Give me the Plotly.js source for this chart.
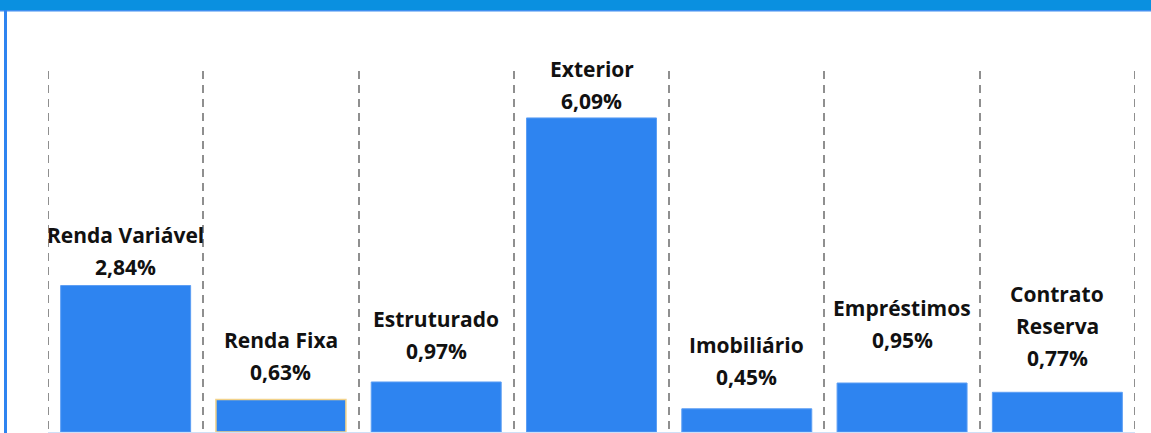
<!DOCTYPE html>
<html>
<head>
<meta charset="utf-8">
<script src="https://cdn.plot.ly/plotly-3.0.1.min.js"></script>
<style>
  html, body { margin: 0; padding: 0; background: #ffffff; }
  #chart { width: 1151px; height: 433px; }
</style>
</head>
<body>
<div id="chart"></div>
<script>
// ---- data ----
var categories = ["Renda Variável", "Renda Fixa", "Estruturado", "Exterior", "Imobiliário", "Empréstimos", "Contrato Reserva"];
var labelLines = [["Renda Variável"], ["Renda Fixa"], ["Estruturado"], ["Exterior"], ["Imobiliário"], ["Empréstimos"], ["Contrato", "Reserva"]];
var values = [2.84, 0.63, 0.97, 6.09, 0.45, 0.95, 0.77];
var valueLabels = ["2,84%", "0,63%", "0,97%", "6,09%", "0,45%", "0,95%", "0,77%"];

// ---- styling ----
var labelGap = [11, 20, 23, 9, 24, 36, 27];   // px between bar top and value baseline
var lineStep = 32;
var descent = 8.5;
var barBlue = "#2E84F0";
var font = "'Open Sans', Lato, sans-serif";
var fsize = 21;

var lineColors = values.map(function (v, i) { return i === 1 ? "#F2D28A" : "#5C9EF4"; });
var lineWidths = values.map(function (v, i) { return i === 1 ? 1.5 : 1; });

var trace = {
  type: "bar",
  x: categories,
  y: values,
  width: 0.837,
  marker: { color: barBlue, line: { color: lineColors, width: lineWidths } },
  hoverinfo: "none"
};

var annotations = [];
categories.forEach(function (c, i) {
  var base = labelGap[i] - descent;
  annotations.push({
    x: c, y: values[i], xref: "x", yref: "y",
    text: valueLabels[i], showarrow: false,
    yanchor: "bottom", xanchor: "center", yshift: base,
    font: { family: font, size: fsize, color: "#111111", weight: "bold" }
  });
  var lines = labelLines[i];
  for (var k = 0; k < lines.length; k++) {
    annotations.push({
      x: c, y: values[i], xref: "x", yref: "y",
      text: lines[k], showarrow: false,
      yanchor: "bottom", xanchor: "center",
      yshift: base + lineStep * (lines.length - k),
      font: { family: font, size: fsize, color: "#111111", weight: "bold" }
    });
  }
});

var plotW = 1151 - 48 - 16, plotH = 433 - 71 - 1;
function px(xp) { return (xp - 48) / plotW; }
function py(yp) { return (432 - yp) / plotH; }

var shapes = [
  { type: "rect", xref: "paper", yref: "paper", x0: px(-20), x1: px(1170), y0: py(10), y1: py(-20),
    fillcolor: "#0A90E0", line: { width: 0 } },
  { type: "rect", xref: "paper", yref: "paper", x0: px(-20), x1: px(1170), y0: py(11.5), y1: py(10),
    fillcolor: "#4090F0", line: { width: 0 } },
  { type: "rect", xref: "paper", yref: "paper", x0: px(4), x1: px(7), y0: py(460), y1: py(10),
    fillcolor: barBlue, line: { width: 0 } }
];
// outer category boundaries (dashed, like the inner grid lines)
[-0.5, categories.length - 0.5].forEach(function (b) {
  shapes.push({ type: "line", xref: "x", yref: "paper", x0: b, x1: b, y0: 1, y1: 0,
    layer: "below", line: { color: "#8f8f8f", width: 2, dash: "8px,6px" } });
});

var layout = {
  width: 1151, height: 433,
  margin: { l: 48, r: 16, t: 71, b: 1, pad: 0 },
  paper_bgcolor: "#ffffff", plot_bgcolor: "#ffffff",
  showlegend: false,
  xaxis: {
    type: "category", range: [-0.5, 6.5], tickson: "boundaries",
    showgrid: true, gridcolor: "#8f8f8f", gridwidth: 2, griddash: "8px,6px",
    showticklabels: false, ticks: "", showline: true, linecolor: "#cfe0f7", linewidth: 1.5,
    zeroline: false, fixedrange: true
  },
  yaxis: {
    range: [0, 7.0], visible: false, showgrid: false, zeroline: false, fixedrange: true
  },
  annotations: annotations,
  shapes: shapes
};

Plotly.newPlot("chart", [trace], layout, { displayModeBar: false, staticPlot: true });
</script>
</body>
</html>
